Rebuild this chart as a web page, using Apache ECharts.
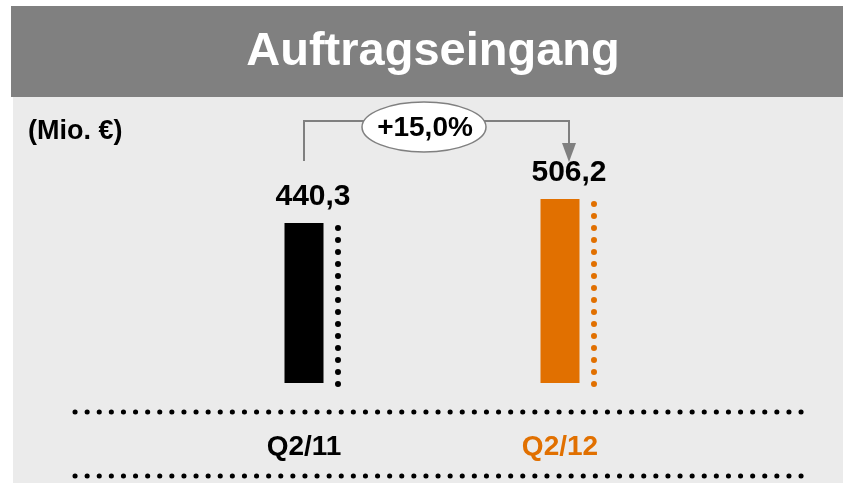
<!DOCTYPE html>
<html>
<head>
<meta charset="utf-8">
<script src="https://cdn.jsdelivr.net/npm/echarts@6/dist/echarts.min.js"></script>
<style>
  html, body { margin: 0; padding: 0; background: #fff; }
  #chart { width: 843px; height: 483px; }
</style>
</head>
<body>
<div id="chart"></div>
<script>
// Daten
const categories = ['Q2/11', 'Q2/12'];
const values = [440.3, 506.2];
const barColors = ['#000000', '#e17000'];
const titleText = 'Auftragseingang';
const unitText = '(Mio. €)';

const FONT = '"Liberation Sans", Arial, sans-serif';
const fmt = v => v.toFixed(1).replace('.', ',');
const growth = (values[1] / values[0] - 1) * 100;
const growthText = '+' + fmt(growth) + '%';

const myChart = echarts.init(document.getElementById('chart'));

// Hintergrund, Titel, gepunktete Trennlinien
const baseGraphics = [
  { type: 'rect', z: -10, shape: { x: 11, y: 6, width: 832, height: 91 }, style: { fill: '#808080' } },
  { type: 'rect', z: -10, shape: { x: 13, y: 97, width: 830, height: 386 }, style: { fill: '#ebebeb' } },
  {
    type: 'text', x: 433, y: 52,
    style: { text: titleText, fill: '#fff', font: 'bold 47px ' + FONT, align: 'center', verticalAlign: 'middle' }
  },
  {
    type: 'text', x: 28, y: 132,
    style: { text: unitText, fill: '#000', font: 'bold 27px ' + FONT, align: 'left', verticalAlign: 'middle' }
  },
  {
    type: 'line', shape: { x1: 75, y1: 412, x2: 808, y2: 412 },
    style: { stroke: '#000', lineWidth: 5, lineDash: [0.1, 12], lineCap: 'round' }
  },
  {
    type: 'line', shape: { x1: 75, y1: 476, x2: 808, y2: 476 },
    style: { stroke: '#000', lineWidth: 5, lineDash: [0.1, 12], lineCap: 'round' }
  }
];

const option = {
  animation: false,
  grid: { left: 176, width: 512, top: 165, bottom: 100 },
  xAxis: {
    type: 'category',
    data: categories,
    axisLine: { show: false },
    axisTick: { show: false },
    axisLabel: {
      margin: 50,
      fontSize: 28,
      fontWeight: 'bold',
      fontFamily: FONT,
      color: (val, idx) => barColors[idx]
    }
  },
  yAxis: { type: 'value', min: 0, max: 600, show: false, splitLine: { show: false } },
  series: [
    {
      type: 'bar',
      barWidth: 39,
      data: values.map((v, i) => ({ value: v, itemStyle: { color: barColors[i] } })),
      label: {
        show: true,
        position: 'top',
        distance: 11,
        offset: [9, 0],
        fontSize: 30,
        fontWeight: 'bold',
        fontFamily: FONT,
        color: '#000',
        formatter: p => fmt(p.value)
      }
    },
    {
      // gepunktete Linien neben den Balken
      type: 'custom',
      data: values.map((v, i) => [i, v]),
      renderItem: (params, api) => {
        const top = api.coord([api.value(0), api.value(1)]);
        const bottom = api.coord([api.value(0), 0]);
        return {
          type: 'line',
          shape: { x1: top[0] + 34, y1: bottom[1] + 1, x2: top[0] + 34, y2: top[1] + 2 },
          style: { stroke: barColors[params.dataIndex], lineWidth: 6, lineDash: [0.1, 11.9], lineCap: 'round' }
        };
      }
    }
  ],
  graphic: baseGraphics
};

myChart.setOption(option);

// Verbindungspfeil mit Wachstumsrate
const p0 = myChart.convertToPixel({ seriesIndex: 0 }, [0, values[0]]);
const p1 = myChart.convertToPixel({ seriesIndex: 0 }, [1, values[1]]);
const lx = Math.round(p0[0]);
const rx = Math.round(p1[0]) + 9;
const lineY = 121;
const gray = '#808080';
myChart.setOption({
  graphic: baseGraphics.concat([
    {
      type: 'polyline',
      shape: { points: [[lx, 161], [lx, lineY], [rx, lineY], [rx, 145]] },
      style: { stroke: gray, lineWidth: 2, fill: null }
    },
    {
      type: 'polygon',
      shape: { points: [[rx - 7, 143], [rx + 7, 143], [rx, 162]] },
      style: { fill: gray }
    },
    {
      type: 'ellipse',
      shape: { cx: 424, cy: 127, rx: 62, ry: 25 },
      style: { fill: '#fff', stroke: gray, lineWidth: 1.5 }
    },
    {
      type: 'text', x: 425, y: 128,
      style: { text: growthText, fill: '#000', font: 'bold 28px ' + FONT, align: 'center', verticalAlign: 'middle' }
    }
  ])
}, { replaceMerge: ['graphic'] });

window.addEventListener('resize', () => myChart.resize());
</script>
</body>
</html>
